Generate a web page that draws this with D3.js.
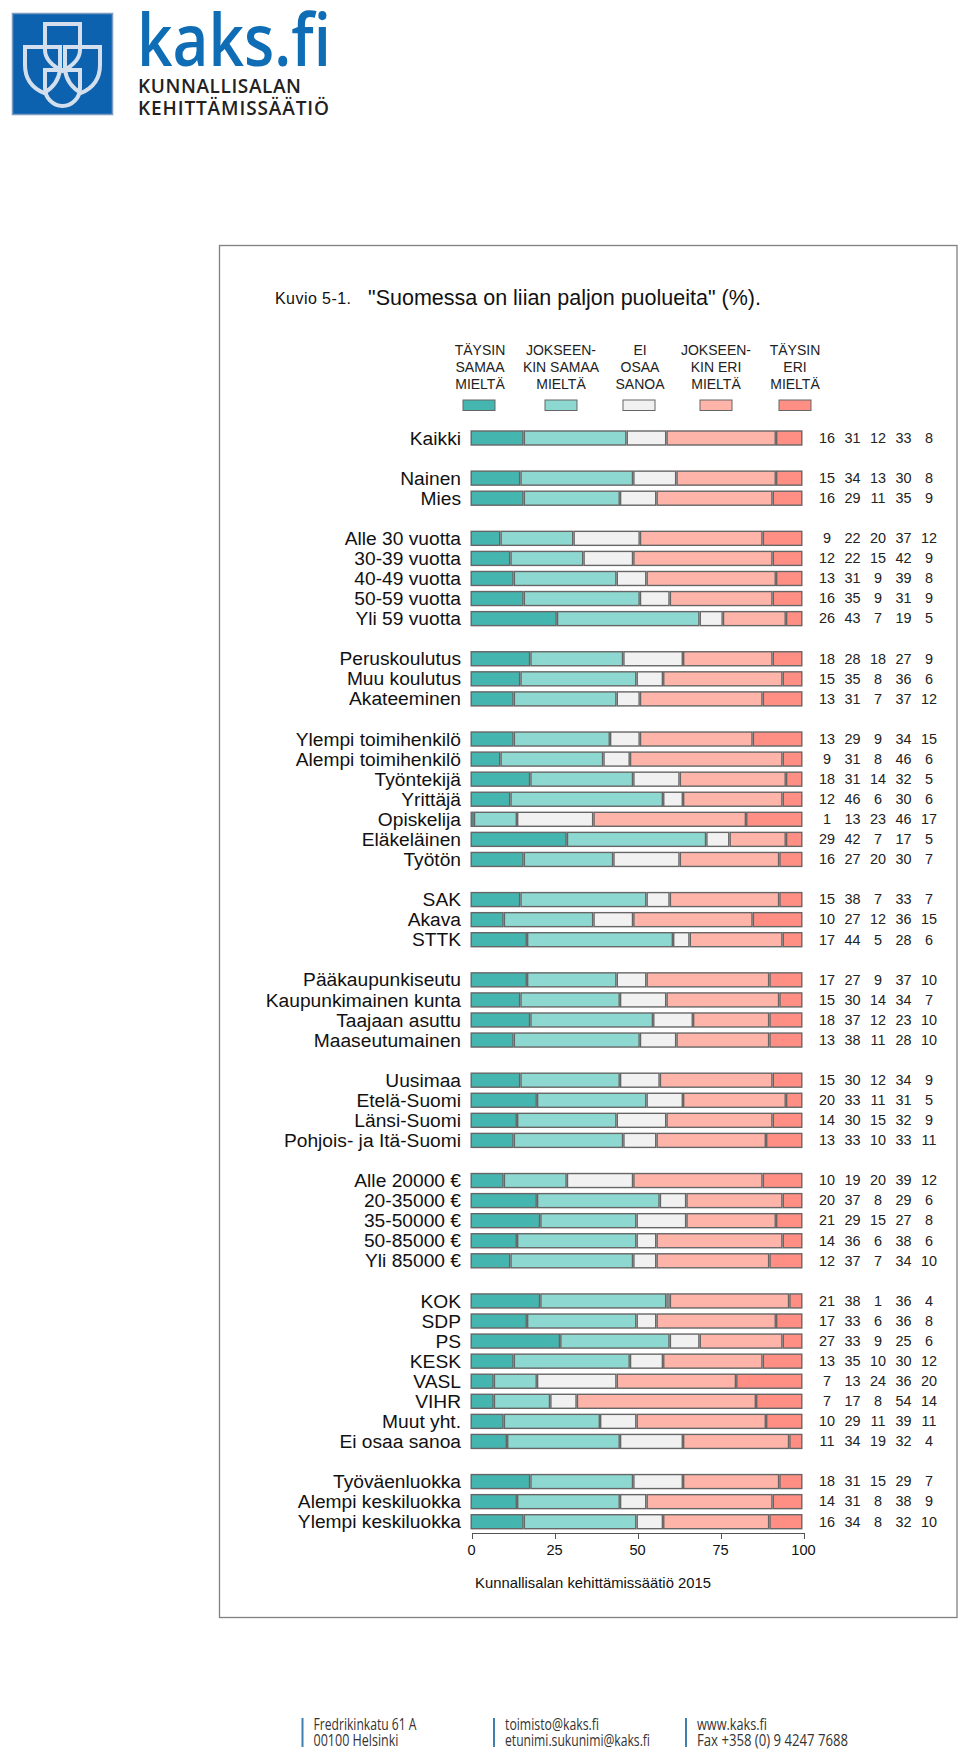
<!DOCTYPE html>
<html>
<head>
<meta charset="utf-8">
<title>Kuvio 5-1</title>
<script src="https://cdn.jsdelivr.net/npm/d3@7/dist/d3.min.js"></script>
<style>
    html, body { margin: 0; padding: 0; background: #fff; }
    svg { display: block; font-family: "Liberation Sans", Arial, sans-serif; }
    text { fill: #111; }
</style>
</head>
<body>
<div id="chart"></div>
<script>
// categories, one list per block of rows
var groups = [
    ['Kaikki'],
    ['Nainen', 'Mies'],
    ['Alle 30 vuotta', '30-39 vuotta', '40-49 vuotta', '50-59 vuotta', 'Yli 59 vuotta'],
    ['Peruskoulutus', 'Muu koulutus', 'Akateeminen'],
    ['Ylempi toimihenkilö', 'Alempi toimihenkilö', 'Työntekijä', 'Yrittäjä', 'Opiskelija', 'Eläkeläinen', 'Työtön'],
    ['SAK', 'Akava', 'STTK'],
    ['Pääkaupunkiseutu', 'Kaupunkimainen kunta', 'Taajaan asuttu', 'Maaseutumainen'],
    ['Uusimaa', 'Etelä-Suomi', 'Länsi-Suomi', 'Pohjois- ja Itä-Suomi'],
    ['Alle 20000 €', '20-35000 €', '35-50000 €', '50-85000 €', 'Yli 85000 €'],
    ['KOK', 'SDP', 'PS', 'KESK', 'VASL', 'VIHR', 'Muut yht.', 'Ei osaa sanoa'],
    ['Työväenluokka', 'Alempi keskiluokka', 'Ylempi keskiluokka']
];

// series values, same order as the categories
var taysinSamaa = [16, 15, 16, 9, 12, 13, 16, 26, 18, 15, 13, 13, 9, 18, 12, 1, 29, 16, 15, 10, 17, 17, 15, 18, 13, 15, 20, 14, 13, 10, 20, 21, 14, 12, 21, 17, 27, 13, 7, 7, 10, 11, 18, 14, 16];
var jokseenkinSamaa = [31, 34, 29, 22, 22, 31, 35, 43, 28, 35, 31, 29, 31, 31, 46, 13, 42, 27, 38, 27, 44, 27, 30, 37, 38, 30, 33, 30, 33, 19, 37, 29, 36, 37, 38, 33, 33, 35, 13, 17, 29, 34, 31, 31, 34];
var eiOsaa = [12, 13, 11, 20, 15, 9, 9, 7, 18, 8, 7, 9, 8, 14, 6, 23, 7, 20, 7, 12, 5, 9, 14, 12, 11, 12, 11, 15, 10, 20, 8, 15, 6, 7, 1, 6, 9, 10, 24, 8, 11, 19, 15, 8, 8];
var jokseenkinEri = [33, 30, 35, 37, 42, 39, 31, 19, 27, 36, 37, 34, 46, 32, 30, 46, 17, 30, 33, 36, 28, 37, 34, 23, 28, 34, 31, 32, 33, 39, 29, 27, 38, 34, 36, 36, 25, 30, 36, 54, 39, 32, 29, 38, 32];
var taysinEri = [8, 8, 9, 12, 9, 8, 9, 5, 9, 6, 12, 15, 6, 5, 6, 17, 5, 7, 7, 15, 6, 10, 7, 10, 10, 9, 5, 9, 11, 12, 6, 8, 6, 10, 4, 8, 6, 12, 20, 14, 11, 4, 7, 9, 10];

var seriesKeys = ['taysinSamaa', 'jokseenkinSamaa', 'eiOsaa', 'jokseenkinEri', 'taysinEri'];
var seriesValues = [taysinSamaa, jokseenkinSamaa, eiOsaa, jokseenkinEri, taysinEri];
var seriesColors = ['#45b5b0', '#8dd8d0', '#f1f1f1', '#ffb4a9', '#ff8f84'];
var legendLabels = [
    ['TÄYSIN', 'SAMAA', 'MIELTÄ'],
    ['JOKSEEN-', 'KIN SAMAA', 'MIELTÄ'],
    ['EI', 'OSAA', 'SANOA'],
    ['JOKSEEN-', 'KIN ERI', 'MIELTÄ'],
    ['TÄYSIN', 'ERI', 'MIELTÄ']
];
var axisTicks = [0, 25, 50, 75, 100];

var width = 960,
    height = 1758;

var svg = d3.select('#chart').append('svg')
    .attr('width', width)
    .attr('height', height);

// logo
var logo = svg.append('g');
logo.append('rect')
    .attr('x', 12.5).attr('y', 13.5)
    .attr('width', 100).attr('height', 101)
    .attr('fill', '#0c62ae')
    .attr('stroke', '#7a9cc0')
    .attr('stroke-width', 1.5);
logo.selectAll('path')
    .data([
        'M45,24 H80 V50 Q80,62 62.5,71 Q45,62 45,50 Z',
        'M25,47 H60 V70 Q58,85 44,93 Q25,85 25,65 Z',
        'M100,47 H65 V70 Q67,85 81,93 Q100,85 100,65 Z',
        'M45,70 H80 V88 A17.5,18 0 0 1 45,88 Z'
    ])
    .enter().append('path')
    .attr('d', function(d) { return d; })
    .attr('fill', 'none')
    .attr('stroke', '#d3dfec')
    .attr('stroke-width', 4);
logo.append('text')
    .attr('x', 137).attr('y', 66)
    .attr('textLength', 194)
    .attr('lengthAdjust', 'spacingAndGlyphs')
    .style('font-family', '"Open Sans"')
    .style('font-weight', 600)
    .style('font-size', '73px')
    .style('fill', '#0f6db5')
    .text('kaks.fi');
logo.selectAll('.logotext')
    .data([
        {t: 'KUNNALLISALAN', y: 92.5, w: 163},
        {t: 'KEHITTÄMISSÄÄTIÖ', y: 115, w: 191}
    ])
    .enter().append('text')
    .attr('class', 'logotext')
    .attr('x', 138)
    .attr('y', function(d) { return d.y; })
    .attr('textLength', function(d) { return d.w; })
    .attr('lengthAdjust', 'spacing')
    .style('font-family', '"Open Sans"')
    .style('font-weight', 600)
    .style('font-size', '19px')
    .style('fill', '#222')
    .text(function(d) { return d.t; });

// frame
svg.append('rect')
    .attr('x', 219.5).attr('y', 245.5)
    .attr('width', 737.5).attr('height', 1372)
    .attr('fill', '#fff')
    .attr('stroke', '#808080')
    .attr('stroke-width', 1.3);

// titles
svg.append('text')
    .attr('x', 275).attr('y', 304)
    .attr('textLength', 76)
    .style('font-size', '16px')
    .text('Kuvio 5-1.');
svg.append('text')
    .attr('x', 368).attr('y', 305)
    .style('font-size', '21.5px')
    .text('"Suomessa on liian paljon puolueita" (%).');

// rows: a blank slot goes between the blocks
var rowDomain = [];
groups.forEach(function(g, i) {
    if (i > 0) rowDomain.push('gap' + i);
    rowDomain = rowDomain.concat(g);
});

var categories = d3.merge(groups);

var rows = categories.map(function(c, i) {
    var row = {category: c};
    seriesKeys.forEach(function(k, j) { row[k] = seriesValues[j][i]; });
    return row;
});

var xScale = d3.scaleLinear().domain([0, 100]).range([470.5, 802.5]);
var yScale = d3.scalePoint().domain(rowDomain).range([438, 1521.7]);
var valueScale = d3.scalePoint().domain(seriesKeys).range([827, 929]);
var colorScale = d3.scaleOrdinal().domain(seriesKeys).range(seriesColors);
var legendScale = d3.scaleOrdinal().domain(seriesKeys).range([479, 561, 639, 716, 795]);
var labelScale = d3.scaleOrdinal().domain(seriesKeys).range([480, 561, 640, 716, 795]);

// legend
var legend = svg.selectAll('.legend')
    .data(seriesKeys)
    .enter().append('g')
    .attr('class', 'legend');

legend.append('rect')
    .attr('x', function(d) { return legendScale(d) - 16; })
    .attr('y', 400)
    .attr('width', 32)
    .attr('height', 10.5)
    .attr('fill', function(d) { return colorScale(d); })
    .attr('stroke', '#666')
    .attr('stroke-width', 1);

legend.each(function(d, i) {
    d3.select(this).selectAll('text')
        .data(legendLabels[i])
        .enter().append('text')
        .attr('x', labelScale(d))
        .attr('y', function(t, j) { return 355 + j * 17.2; })
        .style('text-anchor', 'middle')
        .style('font-size', '14px')
        .style('fill', '#222')
        .text(function(t) { return t; });
});

// stacked bars, each row forced to end at 100 as the rounded values do not always add up
var stacked = d3.stack()
    .keys(seriesKeys)
    .offset(d3.stackOffsetExpand)(rows);

var barHeight = 14;

svg.selectAll('.series')
    .data(stacked)
    .enter().append('g')
    .attr('class', 'series')
    .attr('fill', function(d) { return colorScale(d.key); })
    .selectAll('rect')
    .data(function(d) { return d; })
    .enter().append('rect')
    .attr('x', function(d) { return xScale(d[0] * 100) + 0.7; })
    .attr('y', function(d) { return yScale(d.data.category) - barHeight / 2; })
    .attr('width', function(d) { return Math.max(xScale(d[1] * 100) - xScale(d[0] * 100) - 1.4, 0.5); })
    .attr('height', barHeight)
    .attr('stroke', '#666')
    .attr('stroke-width', 1.4);

// category labels
svg.selectAll('.category')
    .data(categories)
    .enter().append('text')
    .attr('class', 'category')
    .attr('x', 461)
    .attr('y', function(d) { return yScale(d) + 6.6; })
    .style('text-anchor', 'end')
    .style('font-size', '19.2px')
    .text(function(d) { return d; });

// value columns
seriesKeys.forEach(function(k) {
    svg.selectAll('.value-' + k)
        .data(rows)
        .enter().append('text')
        .attr('class', 'value-' + k)
        .attr('x', valueScale(k))
        .attr('y', function(d) { return yScale(d.category) + 4.8; })
        .style('text-anchor', 'middle')
        .style('font-size', '14.4px')
        .style('fill', '#222')
        .text(function(d) { return d[k]; });
});

// axis
var axis = svg.append('g')
    .attr('transform', 'translate(1.5,1533)')
    .call(d3.axisBottom(xScale).tickValues(axisTicks).tickSize(6).tickPadding(6));
axis.select('.domain').attr('stroke', '#555');
axis.selectAll('.tick line').attr('stroke', '#555');
axis.selectAll('.tick text')
    .attr('x', -1)
    .style('font-family', '"Liberation Sans", Arial, sans-serif')
    .style('font-size', '14.6px')
    .attr('fill', '#111');

svg.append('text')
    .attr('x', 475).attr('y', 1588)
    .attr('textLength', 236)
    .style('font-size', '14.8px')
    .text('Kunnallisalan kehittämissäätiö 2015');

// footer
var footerColumns = [
    {x: 302.5, lines: [{t: 'Fredrikinkatu 61 A', w: 103}, {t: '00100 Helsinki', w: 85}]},
    {x: 494, lines: [{t: 'toimisto@kaks.fi', w: 94}, {t: 'etunimi.sukunimi@kaks.fi', w: 145}]},
    {x: 686, lines: [{t: 'www.kaks.fi', w: 70}, {t: 'Fax +358 (0) 9 4247 7688', w: 151}]}
];

var footer = svg.selectAll('.footer')
    .data(footerColumns)
    .enter().append('g')
    .attr('class', 'footer');

footer.append('line')
    .attr('x1', function(d) { return d.x; })
    .attr('x2', function(d) { return d.x; })
    .attr('y1', 1718).attr('y2', 1747)
    .attr('stroke', '#3f7fae')
    .attr('stroke-width', 2);

footer.each(function(col) {
    d3.select(this).selectAll('text')
        .data(col.lines)
        .enter().append('text')
        .attr('x', col.x + 11)
        .attr('y', function(d, i) { return 1730 + i * 16; })
        .attr('textLength', function(d) { return d.w; })
        .attr('lengthAdjust', 'spacingAndGlyphs')
        .style('font-family', '"Open Sans"')
        .style('font-size', '17px')
        .style('fill', '#333')
        .text(function(d) { return d.t; });
});
</script>
</body>
</html>
